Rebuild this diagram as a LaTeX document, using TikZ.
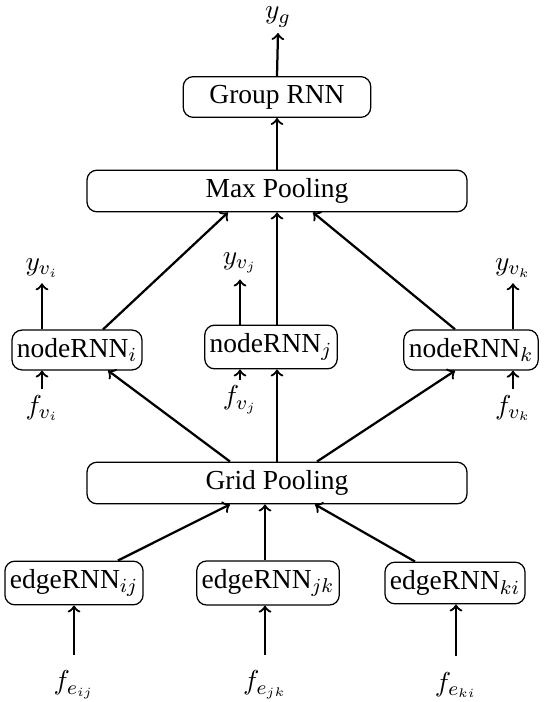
\documentclass[tikz,border=0pt]{standalone}
\usepackage{fontspec}
\setmainfont{Liberation Serif}
\usepackage{amsmath}
\usepackage{tikz}
\usetikzlibrary{arrows}

\begin{document}
\begin{tikzpicture}[x=0.4pt,y=0.4pt,font=\fontsize{11}{13}\selectfont,
    box/.style={draw,rounded corners=4pt,line width=0.5pt,minimum height=15pt,inner xsep=2pt},
    wide/.style={box,minimum width=152pt},
    lbl/.style={inner sep=2pt},
    every path/.style={line width=0.9pt}]
    \useasboundingbox (0,0) rectangle (545,702);
    % top
    \node[lbl](yg) at (278,685) {$y_g$};
    \node[box,minimum width=75pt](group) at (277,605) {Group RNN};
    \node[wide](maxp) at (277,511) {Max Pooling};
    % node rnns
    \node[box](nodei) at (77,352) {nodeRNN$_i$};
    \node[box](nodej) at (271,355) {nodeRNN$_j$};
    \node[box](nodek) at (471,352) {nodeRNN$_k$};
    \node[lbl](yvi) at (42,434) {$y_{v_i}$};
    \node[lbl](yvj) at (240,439) {$y_{v_j}$};
    \node[lbl](yvk) at (513,434) {$y_{v_k}$};
    \node[lbl](fvi) at (42,294) {$f_{v_i}$};
    \node[lbl](fvj) at (240,302) {$f_{v_j}$};
    \node[lbl](fvk) at (513,294) {$f_{v_k}$};
    \node[wide](gridp) at (277,219) {Grid Pooling};
    % edge rnns
    \node[box](edgeij) at (74,119) {edgeRNN$_{ij}$};
    \node[box](edgejk) at (268,119) {edgeRNN$_{jk}$};
    \node[box](edgeki) at (455,119) {edgeRNN$_{ki}$};
    \node[lbl](feij) at (74,17) {$f_{e_{ij}}$};
    \node[lbl](fejk) at (265,17) {$f_{e_{jk}}$};
    \node[lbl](feki) at (456,17) {$f_{e_{ki}}$};

    \draw[->] (group.north) -- (yg.south);
    \draw[->] (maxp.north) -- (group.south);
    \draw[->] ([xshift=10.4pt]nodei.north) -- ([xshift=-19.6pt]maxp.south);
    \draw[->] (maxp.south |- nodej.north) -- (maxp.south);
    \draw[->] ([xshift=-6.4pt]nodek.north) -- ([xshift=14.4pt]maxp.south);
    \draw[->] (yvi |- nodei.north) -- (yvi.south);
    \draw[->] (yvj |- nodej.north) -- (yvj.south);
    \draw[->] (yvk |- nodek.north) -- (yvk.south);
    \draw[->] (fvi.north) -- (fvi |- nodei.south);
    \draw[->] (fvj.north) -- (fvj |- nodej.south);
    \draw[->] (fvk.north) -- (fvk |- nodek.south);
    \draw[->] ([xshift=-18.8pt]gridp.north) -- ([xshift=12.4pt]nodei.south);
    \draw[->] (gridp.north) -- (gridp.north |- nodej.south);
    \draw[->] ([xshift=16pt]gridp.north) -- ([xshift=-6.4pt]nodek.south);
    \draw[->] ([xshift=17.6pt]edgeij.north) -- ([xshift=-18.8pt]gridp.south);
    \draw[->] (edgejk.north -| fejk) -- (fejk |- gridp.south);
    \draw[->] ([xshift=-16pt]edgeki.north) -- ([xshift=15.2pt]gridp.south);
    \draw[->,shorten <=4pt] (feij.north) -- (edgeij.south);
    \draw[->,shorten <=4pt] (fejk.north) -- (fejk |- edgejk.south);
    \draw[->,shorten <=4pt] (feki.north) -- (feki |- edgeki.south);
\end{tikzpicture}
\end{document}
